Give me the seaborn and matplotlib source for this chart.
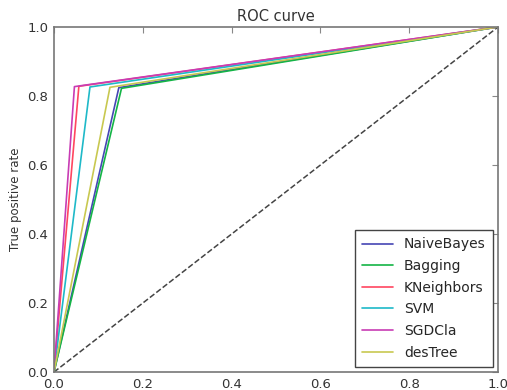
import matplotlib
matplotlib.use('Agg')
import matplotlib.pyplot as plt
import seaborn as sns
import pandas as pd

# Modellek és az ROC görbe töréspontjai (fpr, tpr)
modellek = ['NaiveBayes', 'Bagging', 'KNeighbors', 'SVM', 'SGDCla', 'desTree']
fpr_pont = [0.146, 0.152, 0.056, 0.081, 0.046, 0.126]
tpr_pont = [0.824, 0.822, 0.828, 0.826, 0.827, 0.825]
szinek = ['#4646b4', '#14b446', '#ff4660', '#1eb9c8', '#c83cb4', '#c8c850']

sorok = []
for nev, f, t in zip(modellek, fpr_pont, tpr_pont):
    for x, y in [(0, 0), (f, t), (1, 1)]:
        sorok.append({'modell': nev, 'fpr': x, 'tpr': y})
adatok = pd.DataFrame(sorok)

sns.set_style('white')
plt.rcParams['font.family'] = ['DejaVu Sans']
fig = plt.figure(figsize=(5.07, 3.90), dpi=100)
ax = fig.add_axes([0.1065, 0.046, 0.876, 0.885])

ax.plot([0, 1], [0, 1], '--', color='#444444', linewidth=1.1)
sns.lineplot(data=adatok, x='fpr', y='tpr', hue='modell', hue_order=modellek,
             palette=szinek, sort=False, estimator=None, linewidth=1.2, ax=ax)

ax.set_xlim(0, 1)
ax.set_ylim(0, 1)
ax.set_xticks([0, 0.2, 0.4, 0.6, 0.8, 1.0])
ax.set_yticks([0, 0.2, 0.4, 0.6, 0.8, 1.0])
ax.tick_params(direction='in', top=True, right=True, length=4, width=0.8,
               color='#888888', labelsize=9.5, labelcolor='#333333', pad=4)
for s in ax.spines.values():
    s.set_color('#777777')
    s.set_linewidth(1.2)
ax.set_xlabel('')
ax.set_ylabel('True positive rate', fontsize=8.5, color='#333333')
ax.set_title('ROC curve', fontsize=10.5, color='#333333', pad=4)

leg = ax.legend(loc='lower right', fontsize=10, fancybox=False, framealpha=1,
                edgecolor='#444444', handlelength=2.2, borderpad=0.5,
                labelspacing=0.55, borderaxespad=0.4)
leg.get_frame().set_linewidth(1.0)

fig.savefig('out.png', dpi=100)
